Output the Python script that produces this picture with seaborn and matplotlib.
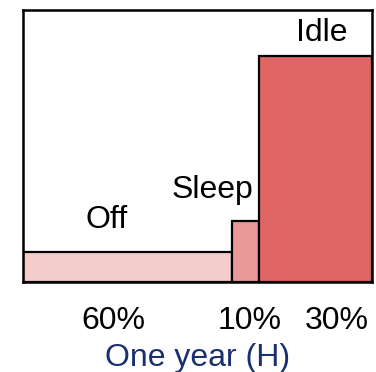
import matplotlib
matplotlib.use("Agg")
import matplotlib.pyplot as plt
import seaborn as sns
import numpy as np

# states over one year: share of time (x width) and power level (bar height)
states = ['Off', 'Sleep', 'Idle']
shares = [0.599, 0.077, 0.324]          # widths
share_labels = ['60%', '10%', '30%']
power = [30, 61, 226]                   # relative heights
colors = ['#f4cccc', '#ea9999', '#e06666']

sns.set_style('white')
plt.rcParams['font.family'] = ['Liberation Sans', 'DejaVu Sans']
plt.rcParams['text.color'] = 'black'
plt.rcParams['xtick.color'] = 'black'

fig = plt.figure(figsize=(3.76, 3.72), dpi=100)
ax = fig.add_axes([0.061, 0.242, 0.928, 0.731])

lefts = np.concatenate([[0], np.cumsum(shares)[:-1]])
ax.bar(lefts, power, width=shares, align='edge', color=colors,
       edgecolor='black', linewidth=1.6)

# state names above each bar
label_x = [0.241, 0.544, 0.857]
label_y = [62, 92, 249]
for name, lx, ly in zip(states, label_x, label_y):
    ax.text(lx, ly, name, ha='center', va='center', fontsize=23, color='black')

ax.set_xlim(0, 1)
ax.set_ylim(0, 272)
ax.set_yticks([])
ax.set_xticks([0.258, 0.650, 0.900])
ax.set_xticklabels(share_labels, fontsize=23, color='black')
ax.tick_params(axis='x', length=0, pad=17)
ax.set_xlabel('One year (H)', fontsize=23, color='#1a2f6e', labelpad=5)
for s in ax.spines.values():
    s.set_color('black')
    s.set_linewidth(1.8)

fig.savefig('out.png', dpi=100)
